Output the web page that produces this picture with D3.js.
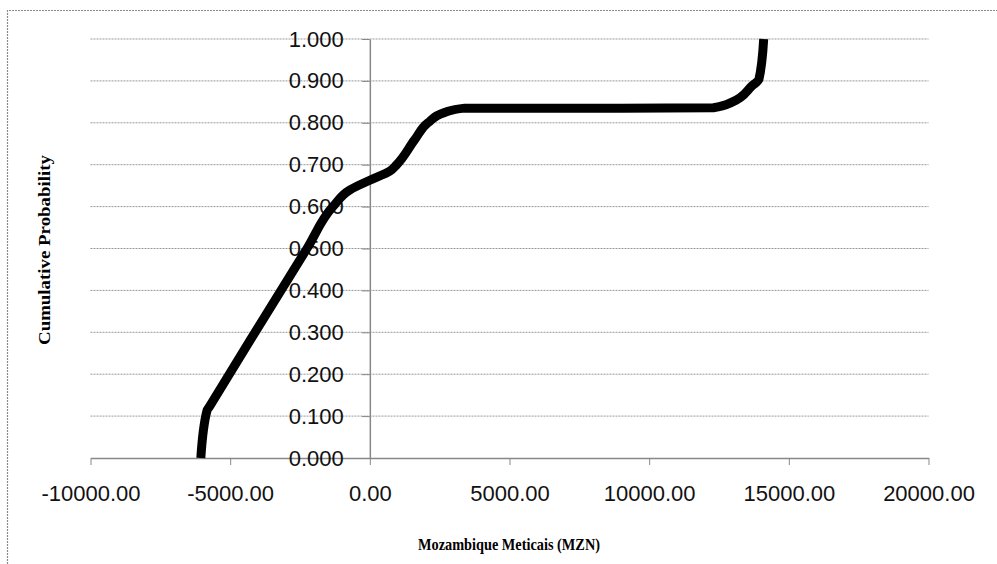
<!DOCTYPE html>
<html>
<head>
<meta charset="utf-8">
<script src="https://cdn.jsdelivr.net/npm/d3@7"></script>
<style>
  body { margin: 0; background: #fff; }
  svg { display: block; }
</style>
</head>
<body>
<div id="chart"></div>
<script>
// values
const meticais = [-6050, -5830, -5730, -4110, -2250, -1320, -710, 0, 720, 960, 1610, 2080, 2690, 3400, 6000, 9000, 12300, 12960, 13680, 13930, 14100];
const cumProb  = [0, 0.113, 0.124, 0.3, 0.5, 0.6, 0.64, 0.663, 0.685, 0.70, 0.76, 0.80, 0.825, 0.835, 0.835, 0.835, 0.836, 0.849, 0.888, 0.904, 1.0];
const xTicks = [-10000, -5000, 0, 5000, 10000, 15000, 20000];
const yTicks = [0, 0.1, 0.2, 0.3, 0.4, 0.5, 0.6, 0.7, 0.8, 0.9, 1.0];

const W = 997, H = 564;
const svg = d3.select("#chart").append("svg")
  .attr("width", W)
  .attr("height", H);

// chart frame (only top and left edges show in the picture)
svg.append("path")
  .attr("d", "M7.5," + H + "V10.5H" + W)
  .attr("fill", "none")
  .attr("stroke", "#8a8a8a")
  .attr("stroke-width", 1.2)
  .attr("stroke-dasharray", "2,1");

const x = d3.scaleLinear().domain([-10000, 20000]).range([90.5, 928.5]);
const y = d3.scaleLinear().domain([0, 1]).range([458, 39]);

// hyphen instead of the unicode minus d3 uses
const fmtX = d => d3.format(".2f")(d).replace("\u2212", "-");

// gridlines
svg.append("g")
  .selectAll("line")
  .data(yTicks.slice(1))
  .enter().append("line")
  .attr("x1", x(-10000)).attr("x2", x(20000))
  .attr("y1", d => y(d)).attr("y2", d => y(d))
  .attr("stroke", "#999")
  .attr("stroke-width", 1)
  .attr("stroke-dasharray", "2,1");

// x axis at y = 0
const xAxis = svg.append("g")
  .attr("transform", "translate(0," + y(0) + ")")
  .call(d3.axisBottom(x).tickValues(xTicks).tickSize(7).tickSizeOuter(0).tickFormat(fmtX));
xAxis.select(".domain").attr("stroke", "#888").attr("stroke-width", 1.5);
xAxis.selectAll(".tick line").attr("stroke", "#888");
xAxis.selectAll(".tick text")
  .attr("y", 27)
  .attr("dy", "0.71em")
  .attr("fill", "#111")
  .style("font-family", "'Liberation Sans', Arial, sans-serif")
  .style("font-size", "22px");

// y axis crossing at x = 0
const yAxis = svg.append("g")
  .attr("transform", "translate(" + x(0) + ",0)")
  .call(d3.axisLeft(y).tickValues(yTicks).tickSize(8).tickSizeOuter(0).tickFormat(d3.format(".3f")));
yAxis.select(".domain").attr("stroke", "#888").attr("stroke-width", 1.5);
yAxis.selectAll(".tick line").attr("stroke", "#888");
yAxis.selectAll(".tick text")
  .attr("x", -26)
  .attr("fill", "#111")
  .style("font-family", "'Liberation Sans', Arial, sans-serif")
  .style("font-size", "22px");

// cumulative curve
const pts = meticais.map((m, i) => [m, cumProb[i]]);
const line = d3.line()
  .x(d => x(d[0]))
  .y(d => y(d[1]))
  .curve(d3.curveMonotoneY);

svg.append("path")
  .datum(pts)
  .attr("d", line)
  .attr("fill", "none")
  .attr("stroke", "#000")
  .attr("stroke-width", 9)
  .attr("stroke-linejoin", "round");

// axis titles
svg.append("text")
  .attr("x", 509)
  .attr("y", 550)
  .attr("text-anchor", "middle")
  .attr("textLength", 182)
  .attr("lengthAdjust", "spacingAndGlyphs")
  .style("font-family", "'Liberation Serif', 'Times New Roman', serif")
  .style("font-weight", "bold")
  .style("font-size", "17px")
  .text("Mozambique Meticais (MZN)");

svg.append("text")
  .attr("transform", "translate(50,250) rotate(-90)")
  .attr("text-anchor", "middle")
  .attr("textLength", 190)
  .attr("lengthAdjust", "spacingAndGlyphs")
  .style("font-family", "'Liberation Serif', 'Times New Roman', serif")
  .style("font-weight", "bold")
  .style("font-size", "17px")
  .text("Cumulative Probability");
</script>
</body>
</html>
